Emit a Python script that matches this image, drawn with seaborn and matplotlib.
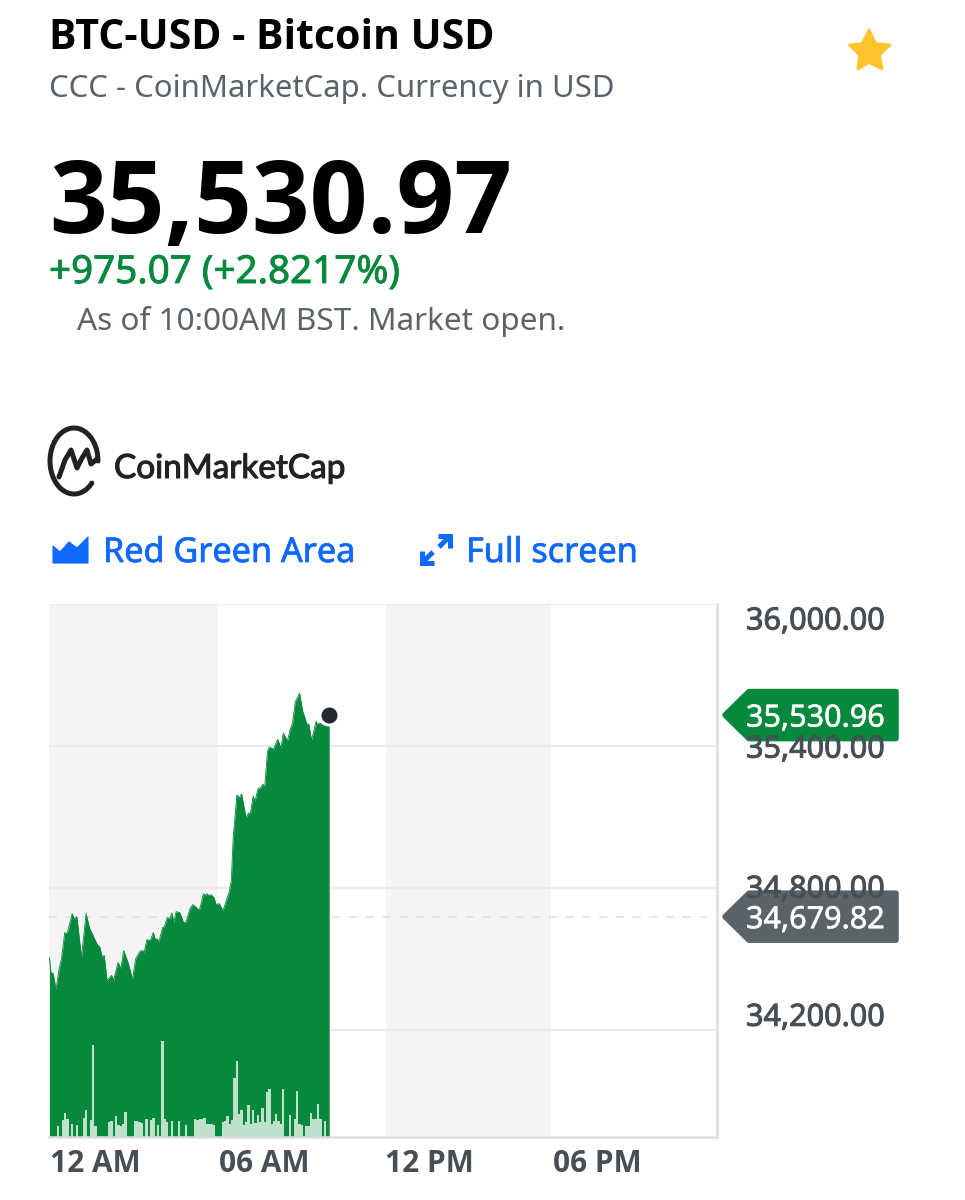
import numpy as np
import matplotlib
matplotlib.use('Agg')
import matplotlib.pyplot as plt
from matplotlib.patches import Polygon
import matplotlib.patheffects as pe
import seaborn as sns

# --- DATA ---
# minutes after midnight and BTC price
price_minutes = [1, 4, 9, 15, 22, 27, 34, 39, 50, 54, 60, 70, 80, 87, 93, 103, 110, 114, 119, 125,
                 135, 139, 149, 155, 161, 171, 180, 187, 196, 202, 205, 211, 216, 220, 225, 229, 232, 237, 245, 248,
                 255, 261, 265, 269, 274, 282, 290, 295, 304, 310, 318, 324, 333, 338, 340, 345, 349, 356, 360, 367,
                 375, 382, 389, 393, 397, 405, 410, 415, 425, 430, 434, 440, 444, 451, 456, 461, 465, 471, 475, 484,
                 493, 500, 505, 514, 520, 525, 531, 535, 540, 547, 556, 560, 566, 576, 578, 584, 591, 597, 604]
price_values = [34507, 34444, 34440, 34373, 34461, 34503, 34613, 34608, 34693, 34672, 34680, 34507, 34693, 34634, 34608, 34566, 34549, 34512, 34516, 34411,
                34432, 34411, 34486, 34461, 34537, 34482, 34415, 34503, 34533, 34537, 34528, 34583, 34579, 34587, 34613, 34583, 34587, 34575, 34634, 34634,
                34676, 34672, 34697, 34655, 34701, 34697, 34655, 34655, 34714, 34731, 34718, 34705, 34777, 34768, 34777, 34768, 34773, 34760, 34731, 34735,
                34705, 34747, 34789, 34832, 35013, 35194, 35181, 35198, 35097, 35118, 35114, 35189, 35168, 35223, 35223, 35240, 35227, 35379, 35396, 35387,
                35429, 35392, 35455, 35421, 35472, 35497, 35589, 35602, 35623, 35547, 35493, 35493, 35425, 35505, 35493, 35497, 35488, 35497, 35530.96]

# volume per 5 minute slot, relative units
volume_slots = [4, 6, 7, 8, 10, 12, 15, 16, 18, 19, 20, 26, 27, 29, 30, 31, 32, 33, 37, 38, 39, 40, 42, 44, 45, 47, 49, 50, 51, 53, 56, 59,
                63, 64, 65, 66, 67, 68, 69, 70, 71, 75, 76, 77, 78, 79, 80, 81, 82, 83, 84, 85, 86, 87, 88, 89, 90, 91, 92, 93, 94, 95, 96,
                97, 98, 99, 100, 101, 104, 106, 107, 108, 109, 111, 112, 113, 114, 115, 116, 117, 119]
volume_values = [11, 17, 24, 18, 13, 12, 19, 27, 17, 92, 11, 15, 16, 21, 12, 11, 13, 25, 16, 16, 15, 14, 18, 17, 19, 12, 96, 18, 15, 16, 16, 12,
                 18, 17, 18, 18, 19, 13, 13, 13, 12, 15, 16, 21, 13, 17, 59, 76, 23, 27, 12, 15, 32, 13, 27, 14, 22, 15, 29, 15, 45, 48, 13,
                 16, 23, 16, 13, 48, 22, 18, 46, 13, 12, 11, 11, 24, 18, 18, 33, 18, 16]

y_ticks = [36000, 35400, 34800, 34200]
y_tick_labels = ['36,000.00', '35,400.00', '34,800.00', '34,200.00']
x_ticks = [2, 367, 724, 1086]
x_tick_labels = ['12 AM', '06 AM', '12 PM', '06 PM']
band_edges = [0, 364, 726, 1082, 1440]
last_price = 35530.96
prev_close = 34679.82

# --- COLORS ---
GREEN = '#06893d'
BLUE = '#0f69ff'
GRAY_TEXT = '#5b636a'
TICK_TEXT = '#464e56'
DARK = '#232a31'
BOLD_FONT = ['Open Sans', 'DejaVu Sans']

# --- FIGURE ---
sns.set_theme(style='white')
plt.rcParams['font.family'] = ['Noto Sans', 'DejaVu Sans']

fig = plt.figure(figsize=(9.65, 12), dpi=100, facecolor='white')
ax = fig.add_axes([49 / 965, 63 / 1200, 668 / 965, 533 / 1200])

# Shaded 6 hour bands
for start, end in zip(band_edges[0::2], band_edges[1::2]):
    ax.axvspan(start, end, color='#f4f4f4', lw=0, zorder=0)

ax.set_yticks(y_ticks)
ax.grid(axis='y', color='#ebebee', lw=1.6, zorder=1)
ax.grid(axis='x', visible=False)
ax.axhline(prev_close, color='#e2e2e2', lw=1.2, dashes=(5, 5), zorder=1)

# Price area
ax.fill_between(price_minutes, price_values, 33000, color=GREEN, lw=0, zorder=2)
sns.lineplot(x=price_minutes, y=price_values, color=GREEN, lw=0.6, sort=False, ax=ax, zorder=3)

ax.set_xlim(0, 1440)
ax.set_ylim(33749.5, 36000)
ax.set_xticks(x_ticks)
ax.set_xticklabels(x_tick_labels, ha='left', fontsize=21.5, fontweight='bold', color=TICK_TEXT, family=BOLD_FONT)
ax.tick_params(axis='x', length=0, pad=9)
ax.tick_params(axis='y', length=0, labelleft=False)
ax.set_xlabel('')
ax.set_ylabel('')
for side in ['top', 'left']:
    ax.spines[side].set_visible(False)
for side in ['right', 'bottom']:
    ax.spines[side].set_color('#dcdde8')
    ax.spines[side].set_linewidth(1.8)

# Volume bars on their own scale
ax_vol = ax.twinx()
sns.barplot(x=[s * 5 for s in volume_slots], y=volume_values, native_scale=True, color='#bfe0cb',
            saturation=1, width=1.0, linewidth=0, ax=ax_vol, zorder=4)
ax_vol.set_xlim(0, 1440)
ax_vol.set_ylim(0, 533)
ax_vol.set_yticks([])
ax_vol.set_ylabel('')
ax_vol.grid(False)
ax_vol.patch.set_visible(False)
for spine in ax_vol.spines.values():
    spine.set_visible(False)

# Last price dot with white halo
ax_vol.set_zorder(ax.get_zorder() + 1)
ax.scatter([price_minutes[-1]], [last_price], s=251, color='white', lw=0, zorder=5, clip_on=False)
ax.scatter([price_minutes[-1]], [last_price], s=133, color=DARK, lw=0, zorder=6, clip_on=False)


def y_px(value):
    return 1200 - ax.transData.transform((0, value))[1]


# --- OVERLAY IN PIXELS ---
over = fig.add_axes([0, 0, 1, 1], zorder=10)
over.set_xlim(0, 965)
over.set_ylim(1200, 0)
over.axis('off')


def label(x, y, text, size, color, stroke=0.0, **kw):
    t = over.text(x, y, text, fontsize=size, color=color, va='baseline', **kw)
    if stroke:
        t.set_path_effects([pe.withStroke(linewidth=stroke, foreground=color)])
    return t


label(49, 49, 'BTC-USD - Bitcoin USD', 29.5, 'black', fontweight='bold', family=BOLD_FONT)
label(49, 97, 'CCC - CoinMarketCap. Currency in USD', 22.4, GRAY_TEXT)
label(49, 233, '35,530.97', 73, 'black', fontweight='bold', family=BOLD_FONT)
label(49, 283, '+975.07 (+2.8217%)', 27.8, GREEN, 0.6)
label(77, 330, 'As of 10:00AM BST. Market open.', 22.7, GRAY_TEXT)
label(114, 478, 'CoinMarketCap', 24, '#222222', 0.8, family='Lato')
label(103, 562, 'Red Green Area', 24.6, BLUE, 0.5)
label(466, 562, 'Full screen', 24.6, BLUE, 0.5)

# Right axis labels, some are nudged off their gridline in the original
label_offsets = [14, 0, -2, -16]
for value, text, off in zip(y_ticks, y_tick_labels, label_offsets):
    t = over.text(746, y_px(value) + off, text, fontsize=22, color=TICK_TEXT, va='center_baseline')
    t.set_path_effects([pe.withStroke(linewidth=0.7, foreground=TICK_TEXT)])

# Price flags
for value, color in [(last_price, GREEN), (prev_close, '#5b636a')]:
    y = y_px(value)
    over.add_patch(Polygon([(725, y), (749, y - 23.5), (896, y - 23.5), (896, y + 23.5), (749, y + 23.5)],
                           closed=True, fc=color, ec=color, lw=4, joinstyle='round'))
    t = over.text(746, y, f'{value:,.2f}', fontsize=22, color='white', va='center_baseline')
    t.set_path_effects([pe.withStroke(linewidth=0.4, foreground='white')])

# Star
over.add_patch(Polygon([(869, 30), (875.5, 43.5), (890, 45), (879.5, 55), (882, 69), (869, 62.5),
                        (858, 69), (859.5, 55), (849.5, 45), (862.5, 43.5)],
                       closed=True, fc='#ffc42d', ec='#ffc42d', lw=2, joinstyle='round'))

# CoinMarketCap logo
theta = np.radians(np.linspace(0, 318, 80))
over.plot(74 + 24 * np.cos(theta), 461 - 33 * np.sin(theta), color='#222222', lw=3.6, solid_capstyle='round')
over.plot([59, 65, 71, 77, 82, 87, 91, 97], [477, 460, 450, 468, 458, 450, 464, 459],
          color='#222222', lw=3.6, solid_joinstyle='round', solid_capstyle='round')

# Area icon
over.add_patch(Polygon([(53, 563), (53, 546), (60, 552), (69, 542), (77, 548), (88, 537), (88, 563)],
                       closed=True, fc=BLUE, ec=BLUE, lw=0.8, joinstyle='round'))

# Full screen icon
for xs, ys in [([438, 450, 450], [536, 536, 548]), ([448, 439], [538, 547]),
               ([422, 422, 434], [551, 563, 563]), ([424, 433], [561, 552])]:
    over.plot(xs, ys, color=BLUE, lw=3.6, solid_joinstyle='miter', solid_capstyle='butt')

fig.savefig('out.png', dpi=100, facecolor='white')
